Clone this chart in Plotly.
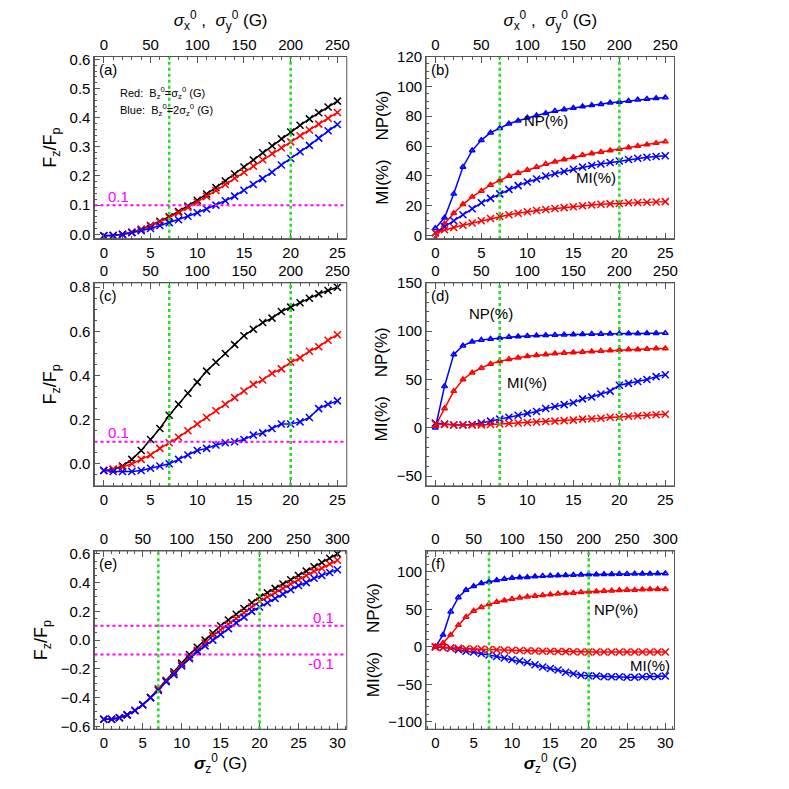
import plotly.graph_objects as go

x25 = list(range(26))
x30 = list(range(31))

# panel (a): Fz/Fp
a_black = [-0.005, -0.004, 0.0, 0.007, 0.017, 0.03, 0.045, 0.06, 0.078, 0.097, 0.117, 0.138, 0.16, 0.183, 0.207,
           0.231, 0.255, 0.28, 0.304, 0.328, 0.351, 0.374, 0.396, 0.417, 0.437, 0.457]
a_red = [-0.005, -0.004, 0.0, 0.007, 0.016, 0.028, 0.042, 0.057, 0.074, 0.092, 0.11, 0.13, 0.15, 0.171, 0.192,
         0.213, 0.234, 0.256, 0.277, 0.297, 0.317, 0.338, 0.358, 0.378, 0.398, 0.418]
a_blue = [-0.005, -0.004, -0.001, 0.005, 0.012, 0.02, 0.03, 0.04, 0.05, 0.062, 0.074, 0.087, 0.1, 0.115, 0.131,
          0.151, 0.171, 0.191, 0.213, 0.238, 0.26, 0.283, 0.305, 0.33, 0.355, 0.377]

# panel (b): NP / MI
b_np_blue = [5, 12, 28, 46, 57, 64, 69, 72, 75, 77, 79, 80.5, 82, 83.5, 84.5, 85.5, 86.5, 87.3, 88, 89, 89.5,
             90.2, 91, 91.5, 92, 92.5]
b_np_red = [-2, 8, 15, 21, 26, 30, 34, 37, 40, 42, 44, 46, 48, 49.5, 51, 52.5, 54, 55, 56, 57, 58, 59, 60, 61, 62, 63]
b_mi_blue = [2, 6, 10, 14, 18, 22, 25, 28, 31, 33.5, 36, 38, 40, 41.5, 43, 44.5, 46, 47, 48, 49, 50, 51, 51.8,
             52.5, 53, 53.5]
b_mi_red = [2, 4, 5.5, 7, 8.5, 10, 11.5, 12.8, 14, 15, 16, 16.8, 17.5, 18.2, 18.8, 19.4, 20, 20.5, 21, 21.3, 21.6,
            22, 22.2, 22.4, 22.6, 22.8]

# panel (c)
c_black = [-0.03, -0.025, -0.01, 0.02, 0.06, 0.11, 0.16, 0.22, 0.27, 0.32, 0.37, 0.42, 0.46, 0.5, 0.54, 0.58,
           0.61, 0.64, 0.66, 0.69, 0.71, 0.73, 0.75, 0.77, 0.785, 0.8]
c_red = [-0.03, -0.025, -0.015, 0.0, 0.02, 0.04, 0.07, 0.095, 0.12, 0.15, 0.18, 0.21, 0.24, 0.27, 0.3, 0.33,
         0.36, 0.38, 0.41, 0.43, 0.46, 0.48, 0.51, 0.53, 0.56, 0.585]
c_blue = [-0.03, -0.035, -0.035, -0.035, -0.03, -0.02, -0.01, 0.0, 0.02, 0.04, 0.06, 0.07, 0.085, 0.095, 0.1,
          0.11, 0.13, 0.14, 0.16, 0.18, 0.18, 0.19, 0.21, 0.25, 0.27, 0.285]

# panel (d)
d_np_blue = [0, 43, 76, 85, 89, 91, 92, 93, 94, 94.5, 95, 95.5, 95.8, 96, 96.3, 96.5, 96.8, 97, 97.2, 97.4, 97.5,
             97.6, 97.7, 97.8, 97.9, 98]
d_np_red = [2, 20, 38, 50, 57, 62, 66, 69, 71, 72.5, 74, 75, 76, 77, 77.5, 78, 78.5, 79, 79.5, 80, 80.5, 81, 81,
            81.5, 82, 82]
d_mi_blue = [5, 4, 3, 3, 3.5, 5, 7, 9, 11, 13, 15, 17, 20, 22, 24, 26, 30, 32, 35, 38, 44, 46, 48, 50, 53, 55]
d_mi_red = [4, 3.5, 3, 3, 3, 3, 3.5, 4, 4.5, 5, 5.5, 6, 6.5, 7, 7.5, 8, 9, 9.5, 10, 11, 11, 12, 12.5, 13, 13.5, 14]

# panel (e)
e_black = [-0.55, -0.55, -0.54, -0.52, -0.49, -0.45, -0.4, -0.34, -0.28, -0.22, -0.16, -0.1, -0.05, 0.0, 0.05,
           0.1, 0.14, 0.18, 0.22, 0.26, 0.3, 0.33, 0.36, 0.39, 0.42, 0.45, 0.48, 0.51, 0.54, 0.57, 0.6]
e_red = [-0.55, -0.55, -0.54, -0.52, -0.49, -0.45, -0.4, -0.34, -0.285, -0.23, -0.17, -0.12, -0.07, -0.02, 0.03,
         0.07, 0.11, 0.15, 0.19, 0.23, 0.27, 0.3, 0.33, 0.36, 0.39, 0.42, 0.45, 0.48, 0.5, 0.53, 0.555]
e_blue = [-0.55, -0.55, -0.54, -0.52, -0.49, -0.45, -0.4, -0.35, -0.29, -0.24, -0.18, -0.13, -0.08, -0.04, 0.0,
          0.04, 0.08, 0.12, 0.16, 0.2, 0.23, 0.26, 0.29, 0.32, 0.35, 0.38, 0.4, 0.43, 0.45, 0.47, 0.49]

# panel (f)
f_np_blue = [0, 16, 47, 66, 76, 81, 85, 87, 89, 90.5, 92, 92.5, 93, 94, 94.5, 95, 95.3, 95.6, 96, 96.2, 96.5,
             96.7, 96.9, 97, 97.2, 97.4, 97.5, 97.6, 97.7, 97.8, 98]
f_np_red = [0, 5, 16, 29, 40, 48, 53, 57, 60, 62, 64, 65.5, 67, 68, 69, 70, 71, 71.5, 72, 73, 73.5, 74, 74.5, 75,
            75.5, 76, 76, 76.5, 77, 77, 77]
f_mi_blue = [0, -1, -2, -4, -6, -7, -9, -11, -13, -15, -17, -19, -21, -24, -27, -29, -31, -34, -36, -38, -38.5,
             -39, -40, -40, -40, -40.5, -40.5, -40, -39.5, -39.5, -39]
f_mi_red = [0, -1, -1.5, -2, -2.5, -3, -3, -3.5, -4, -4.3, -4.6, -5, -5.2, -5.5, -5.8, -6, -6.2, -6.4, -6.6, -6.8,
            -7, -7, -7, -7, -7, -7, -7, -7, -7, -7, -7]

FONT = "Liberation Sans"
# the page body adds ~8px offset, domains are shifted to compensate
xdom = [[0.110, 0.431], [0.532, 0.848]]
ydom = [[0.714, 0.949], [0.395, 0.657], [0.081, 0.311]]

fig = go.Figure()

panels = [
    dict(x=x25, ys=[(a_black, "black", "x-thin"), (a_red, "red", "x-thin"), (a_blue, "blue", "x-thin")],
         yr=[-0.015, 0.61], dt=0.1, label="(a)", left=True, xmax=25, xtop=250),
    dict(x=x25, ys=[(b_np_blue, "blue", "triangle-up-open"), (b_np_red, "red", "triangle-up-open"),
                    (b_mi_blue, "blue", "x-thin"), (b_mi_red, "red", "x-thin")],
         yr=[-2, 120], dt=20, label="(b)", left=False, xmax=25, xtop=250),
    dict(x=x25, ys=[(c_black, "black", "x-thin"), (c_red, "red", "x-thin"), (c_blue, "blue", "x-thin")],
         yr=[-0.1, 0.82], dt=0.2, label="(c)", left=True, xmax=25, xtop=250),
    dict(x=x25, ys=[(d_np_blue, "blue", "triangle-up-open"), (d_np_red, "red", "triangle-up-open"),
                    (d_mi_blue, "blue", "x-thin"), (d_mi_red, "red", "x-thin")],
         yr=[-60, 150], dt=50, label="(d)", left=False, xmax=25, xtop=250),
    dict(x=x30, ys=[(e_black, "black", "x-thin"), (e_red, "red", "x-thin"), (e_blue, "blue", "x-thin")],
         yr=[-0.62, 0.62], dt=0.2, label="(e)", left=True, xmax=30, xtop=300),
    dict(x=x30, ys=[(f_np_blue, "blue", "triangle-up-open"), (f_np_red, "red", "triangle-up-open"),
                    (f_mi_blue, "blue", "x-thin"), (f_mi_red, "red", "x-thin")],
         yr=[-110, 128], dt=50, label="(f)", left=False, xmax=30, xtop=300),
]

axcommon = dict(showgrid=False, zeroline=False, showline=True, linecolor="#555", linewidth=1,
                ticks="inside", ticklen=6, tickcolor="#555", tickfont=dict(size=15, family=FONT, color="black"),
                minor=dict(ticks="inside", ticklen=3, tickcolor="#555"))

layout = {}
for i, p in enumerate(panels):
    n = i + 1
    nt = n + 6
    r, c = i // 2, i % 2
    pad = p["xmax"] * 0.04
    xs = "" if n == 1 else str(n)
    for yv, col, sym in p["ys"]:
        fig.add_trace(go.Scatter(x=p["x"], y=yv, mode="lines+markers", xaxis="x" + xs, yaxis="y" + xs,
                                 line=dict(color=col, width=1.5),
                                 marker=dict(symbol=sym, size=7 if sym == "x-thin" else 5, color=col,
                                             line=dict(color=col, width=1.5)),
                                 showlegend=False))
    # invisible trace so the top axis renders
    fig.add_trace(go.Scatter(x=[0, p["xtop"]], y=[None, None], xaxis="x" + str(nt), yaxis="y" + xs,
                             mode="markers", showlegend=False, hoverinfo="skip"))
    for vx in [7, 20]:
        fig.add_shape(type="line", x0=vx, x1=vx, y0=p["yr"][0], y1=p["yr"][1], xref="x" + xs, yref="y" + xs,
                      line=dict(color="#22dd22", width=2.5, dash="dot"))
    if p["left"]:
        hl = [0.1] if n != 5 else [0.1, -0.1]
        for hy in hl:
            fig.add_shape(type="line", x0=-pad, x1=p["xmax"] + pad, y0=hy, y1=hy, xref="x" + xs, yref="y" + xs,
                          line=dict(color="magenta", width=2, dash="dot"))
    fig.add_annotation(text=p["label"], x=xdom[c][0] + 0.003, y=ydom[r][1] - 0.003, xref="paper", yref="paper",
                       xanchor="left", yanchor="top", showarrow=False, font=dict(size=15, family=FONT))
    layout["xaxis" + xs] = dict(axcommon, domain=xdom[c], anchor="y" + xs, range=[-pad, p["xmax"] + pad],
                                dtick=5, tick0=0)
    layout["xaxis" + str(nt)] = dict(axcommon, domain=xdom[c], anchor="y" + xs, overlaying="x" + xs,
                                     side="top", range=[-pad * 10, p["xtop"] + pad * 10], dtick=50, tick0=0)
    layout["yaxis" + xs] = dict(axcommon, domain=ydom[r], anchor="x" + xs, range=p["yr"], dtick=p["dt"],
                                tick0=0, tickformat=".1f" if p["left"] else "d")
    fig.add_shape(type="rect", x0=0, x1=1, y0=0, y1=1, xref="x" + xs + " domain", yref="y" + xs + " domain",
                  line=dict(color="#555", width=1))
    if p["left"]:
        layout["yaxis" + xs]["title"] = dict(text="F<sub>z</sub>/F<sub>p</sub>", font=dict(size=18, family=FONT),
                                              standoff=8)
    else:
        layout["yaxis" + xs]["title"] = dict(text="MI(%)    NP(%)", font=dict(size=17, family=FONT),
                                              standoff=4)

top_title = "<i>σ</i><sub>x</sub><sup>0</sup> ,  <i>σ</i><sub>y</sub><sup>0</sup> (G)"
bot_title = "<b><i>σ</i></b><sub>z</sub><sup>0</sup> (G)"
layout["xaxis7"]["title"] = dict(text=top_title, font=dict(size=17, family=FONT), standoff=4)
layout["xaxis8"]["title"] = dict(text=top_title, font=dict(size=17, family=FONT), standoff=4)
layout["xaxis5"]["title"] = dict(text=bot_title, font=dict(size=17, family=FONT), standoff=2)
layout["xaxis6"]["title"] = dict(text=bot_title, font=dict(size=17, family=FONT), standoff=2)

fig.add_annotation(text="Red:  B<sub>z</sub><sup>0</sup>=σ<sub>z</sub><sup>0</sup> (G)", x=1.5, y=0.485, xref="x",
                   yref="y", xanchor="left", showarrow=False, font=dict(size=11, family=FONT))
fig.add_annotation(text="Blue:  B<sub>z</sub><sup>0</sup>=2σ<sub>z</sub><sup>0</sup> (G)", x=1.5, y=0.425, xref="x",
                   yref="y", xanchor="left", showarrow=False, font=dict(size=11, family=FONT))
for xr, yr_, yy in [("x", "y", 0.128), ("x3", "y3", 0.14)]:
    fig.add_annotation(text="0.1", x=0.2, y=yy, xref=xr, yref=yr_, xanchor="left", showarrow=False,
                       font=dict(size=15, family=FONT, color="magenta"))
fig.add_annotation(text="0.1", x=29.8, y=0.16, xref="x5", yref="y5", xanchor="right", showarrow=False,
                   font=dict(size=15, family=FONT, color="magenta"))
fig.add_annotation(text="-0.1", x=29.8, y=-0.16, xref="x5", yref="y5", xanchor="right", showarrow=False,
                   font=dict(size=15, family=FONT, color="magenta"))
for xr, yr_, xx, yy, t in [("x2", "y2", 12, 77, "NP(%)"), ("x2", "y2", 17.5, 39, "MI(%)"),
                           ("x4", "y4", 6, 118, "NP(%)"), ("x4", "y4", 10, 47, "MI(%)"),
                           ("x6", "y6", 23.5, 50, "NP(%)"), ("x6", "y6", 28, -25, "MI(%)")]:
    fig.add_annotation(text=t, x=xx, y=yy, xref=xr, yref=yr_, showarrow=False, font=dict(size=15, family=FONT))

fig.update_layout(**layout)
fig.update_layout(width=789, height=789, margin=dict(l=0, r=0, t=0, b=0), plot_bgcolor="white",
                  paper_bgcolor="white", font=dict(family=FONT, color="black"))
fig.write_html("out.html")
